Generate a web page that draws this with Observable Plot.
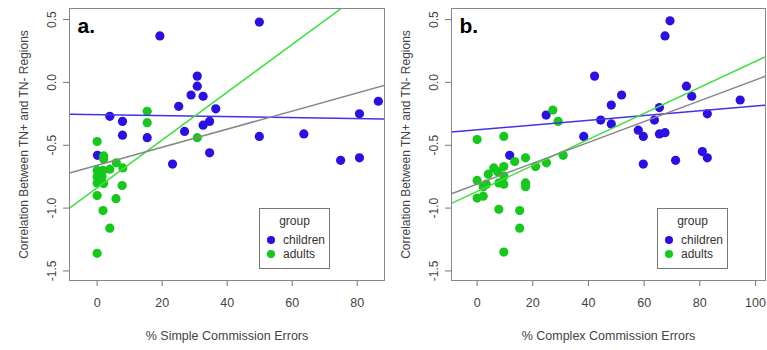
<!DOCTYPE html>
<html><head><meta charset="utf-8">
<script src="https://cdn.jsdelivr.net/npm/d3@7"></script>
<script src="https://cdn.jsdelivr.net/npm/@observablehq/plot@0.6"></script>
<style>
body{margin:0;background:#fff;font-family:"Liberation Sans",Arial,sans-serif;}
#wrap{position:relative;width:767px;height:350px;display:flex;}
.legend{position:absolute;border:1px solid #777;background:#fff;box-sizing:border-box;color:#333;font-size:12px;}
.legend .t{position:absolute;left:0;right:0;text-align:center;top:5px;}
.legend .r{position:absolute;left:7px;display:flex;align-items:center;}
.legend .d{width:8px;height:8px;border-radius:50%;margin-right:8px;}
</style></head>
<body><div id="wrap"></div>
<script>
// Panel a: % Simple Commission Errors
const simpleChildrenX = [19.3,3.9,7.8,7.8,15.4,0.1,23.2,25.1,26.9,28.9,30.8,30.8,49.9,32.6,36.5,34.6,32.6,49.9,34.6,63.6,80.7,86.5,74.9,80.7];
const simpleChildrenY = [0.37,-0.27,-0.31,-0.42,-0.44,-0.58,-0.65,-0.19,-0.39,-0.10,0.05,-0.03,0.48,-0.11,-0.21,-0.31,-0.34,-0.43,-0.56,-0.41,-0.25,-0.15,-0.62,-0.60];
const simpleAdultsX = [15.4,15.4,0,30.8,2.0,2.0,0,5.9,7.9,3.9,0,1.5,1.8,0,2.0,7.7,0,5.8,1.8,3.9,0];
const simpleAdultsY = [-0.23,-0.32,-0.47,-0.44,-0.585,-0.61,-0.70,-0.64,-0.68,-0.69,-0.75,-0.75,-0.70,-0.80,-0.805,-0.82,-0.90,-0.925,-1.02,-1.16,-1.36];
// Panel b: % Complex Commission Errors
const complexChildrenX = [24.8,11.7,69.3,67.5,42.2,51.9,75.2,77.1,94.5,48.2,65.5,44.4,48.2,63.7,82.7,38.3,57.9,59.7,65.5,67.5,59.7,71.3,80.9,82.7];
const complexChildrenY = [-0.26,-0.58,0.49,0.37,0.05,-0.10,-0.03,-0.11,-0.14,-0.18,-0.20,-0.30,-0.33,-0.30,-0.25,-0.43,-0.38,-0.43,-0.41,-0.40,-0.65,-0.62,-0.55,-0.60];
const complexAdultsX = [27.2,29.1,0,9.6,13.5,17.4,30.9,21.0,24.9,6.0,9.6,4.0,7.4,9.6,0,3.3,7.8,9.6,17.4,17.4,2.2,0,2.2,7.8,15.3,15.3,9.6];
const complexAdultsY = [-0.22,-0.31,-0.455,-0.43,-0.63,-0.60,-0.58,-0.67,-0.64,-0.68,-0.67,-0.73,-0.71,-0.745,-0.78,-0.81,-0.80,-0.81,-0.80,-0.83,-0.83,-0.92,-0.905,-1.01,-1.02,-1.16,-1.35];
// fitted lines (group, slope, intercept)
const fitGroups = ["children","adults","all"];
const simpleSlopes = [-0.0004, 0.019, 0.0072];
const simpleIntercepts = [-0.256, -0.838, -0.66];
const complexSlopes = [0.00189, 0.01034, 0.00829];
const complexIntercepts = [-0.377, -0.867, -0.809];
const yTicks = [-1.5,-1.0,-0.5,0.0,0.5];
const simpleXTicks = [0,20,40,60,80];
const complexXTicks = [0,20,40,60,80,100];
const groups = ["children","adults"];

const colors = {children:"#2a10e2", adults:"#16c81c"};
const lineColors = {children:"#4433e6", adults:"#3fe03f", all:"#888888"};

function panel(o){
  const pts = [
    ...o.cx.map((x,i)=>({x, y:o.cy[i], g:"children"})),
    ...o.ax.map((x,i)=>({x, y:o.ay[i], g:"adults"}))
  ];
  const lines = [];
  fitGroups.forEach((g,i)=>{
    for (const x of o.xdom) lines.push({g, x, y:o.int[i] + o.slope[i]*x});
  });
  return Plot.plot({
    width:o.width, height:350,
    marginTop:8, marginBottom:70, marginLeft:o.ml, marginRight:o.mr,
    style:{fontFamily:"'Liberation Sans',Arial,sans-serif", fontSize:"11.5px", color:"#444", background:"white", overflow:"visible"},
    x:{domain:o.xdom},
    y:{domain:[-1.576,0.588]},
    marks:[
      Plot.axisX({ticks:o.xticks, tickSize:6, tickPadding:12, tickFormat:d=>String(d), label:o.xlabel, labelAnchor:"center", labelArrow:"none", labelOffset:59, fontSize:12.5, stroke:"#777"}),
      Plot.axisY({ticks:yTicks, tickSize:6, tickPadding:8, tickRotate:-90, tickFormat:d=>d.toFixed(1), label:"Correlation Between TN+ and TN- Regions", labelAnchor:"center", labelArrow:"none", labelOffset:50, fontSize:12, stroke:"#777"}),
      Plot.dot(pts, {x:"x", y:"y", r:4.6, fill:d=>colors[d.g], stroke:null}),
      Plot.line(lines, {x:"x", y:"y", z:"g", stroke:d=>lineColors[d.g], strokeWidth:1.5, clip:true}),
      Plot.frame({stroke:"#888", strokeWidth:1}),
      Plot.text([o.tag], {frameAnchor:"top-left", dx:8, dy:18, text:d=>d, fontWeight:"bold", fontSize:21, fill:"#000", lineAnchor:"middle"})
    ]
  });
}

const wrap = document.getElementById("wrap");
wrap.appendChild(panel({cx:simpleChildrenX, cy:simpleChildrenY, ax:simpleAdultsX, ay:simpleAdultsY,
  slope:simpleSlopes, int:simpleIntercepts, xdom:[-8.5,88.4], xticks:simpleXTicks,
  xlabel:"% Simple Commission Errors", width:390, ml:69, mr:6, tag:"a."}));
wrap.appendChild(panel({cx:complexChildrenX, cy:complexChildrenY, ax:complexAdultsX, ay:complexAdultsY,
  slope:complexSlopes, int:complexIntercepts, xdom:[-9.2,103.6], xticks:complexXTicks,
  xlabel:"% Complex Commission Errors", width:377, ml:61, mr:2, tag:"b."}));

function legend(left, top){
  const d = document.createElement("div");
  d.className = "legend";
  Object.assign(d.style, {left:left+"px", top:top+"px", width:"71px", height:"61px"});
  d.innerHTML = `<div class="t">group</div>` + groups.map((g,i)=>
    `<div class="r" style="top:${24+i*14}px"><div class="d" style="background:${colors[g]}"></div>${g}</div>`).join("");
  wrap.appendChild(d);
}
legend(259, 208);
legend(657, 208);
</script></body></html>
